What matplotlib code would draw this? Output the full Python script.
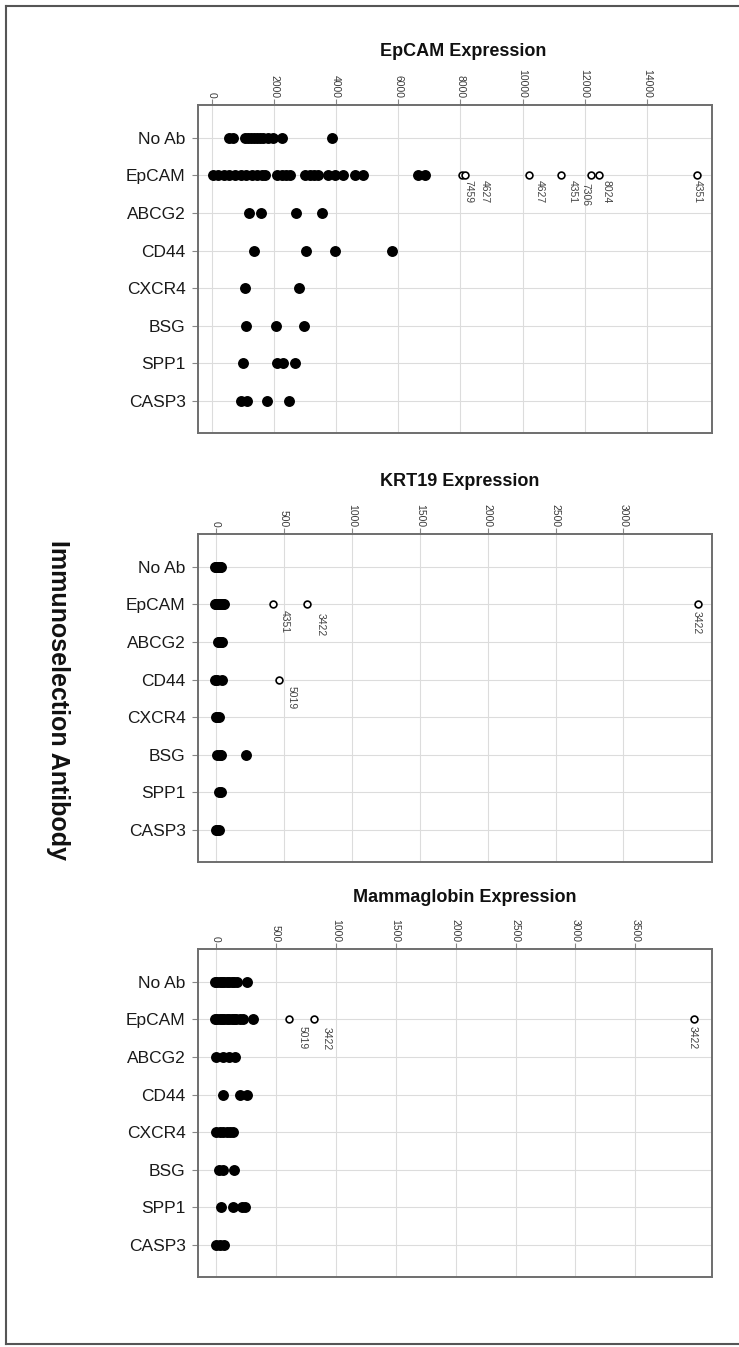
import matplotlib
matplotlib.use("Agg")
import matplotlib.pyplot as plt
from matplotlib.lines import Line2D

plt.rcParams['font.family'] = ['Liberation Sans', 'DejaVu Sans']

# ---------------- data ----------------
rows = ["No Ab", "EpCAM", "ABCG2", "CD44", "CXCR4", "BSG", "SPP1", "CASP3"]

epcam_title = "EpCAM Expression"
epcam_ticks = [0, 2000, 4000, 6000, 8000, 10000, 12000, 14000]
epcam_values = [
    [550, 680, 1050, 1150, 1250, 1350, 1450, 1550, 1650, 1800, 1950, 2250, 3860],
    [40, 200, 380, 560, 740, 920, 1100, 1280, 1460, 1600, 1710, 2080, 2250, 2380, 2510,
     2990, 3150, 3300, 3420, 3750, 3950, 4230, 4600, 4870, 6640, 6860],
    [1190, 1580, 2700, 3540],
    [1350, 3030, 3950, 5790],
    [1060, 2800],
    [1090, 2060, 2960],
    [1000, 2090, 2290, 2670],
    [930, 1130, 1770, 2480],
]
epcam_out_rows = ["EpCAM"] * 7
epcam_out_values = [8060, 8160, 10200, 11230, 12220, 12460, 15610]
epcam_out_labels = ["7459", "4627", "4627", "4351", "7306", "8024", "4351"]

krt19_title = "KRT19 Expression"
krt19_ticks = [0, 500, 1000, 1500, 2000, 2500, 3000]
krt19_values = [
    [-10, 0, 10, 20, 30, 40],
    [-10, 0, 10, 20, 30, 40, 50, 60],
    [15, 25, 35, 45],
    [-10, 10, 45],
    [0, 10, 25],
    [10, 30, 40, 220],
    [25, 35],
    [0, 10, 20],
]
krt19_out_rows = ["EpCAM", "EpCAM", "EpCAM", "CD44"]
krt19_out_values = [420, 670, 3550, 465]
krt19_out_labels = ["4351", "3422", "3422", "5019"]

mam_title = "Mammaglobin Expression"
mam_ticks = [0, 500, 1000, 1500, 2000, 2500, 3000, 3500]
mam_values = [
    [-10, 10, 30, 50, 70, 90, 110, 130, 150, 175, 255],
    [-10, 10, 30, 50, 70, 90, 110, 130, 150, 170, 200, 225, 305],
    [0, 60, 110, 155],
    [60, 200, 260],
    [0, 30, 60, 90, 120, 140],
    [25, 60, 150],
    [40, 140, 215, 240],
    [0, 30, 70],
]
mam_out_rows = ["EpCAM", "EpCAM", "EpCAM"]
mam_out_values = [610, 815, 3990]
mam_out_labels = ["5019", "3422", "3422"]

y_label = "Immunoselection Antibody"

# ---------------- styling / layout ----------------
W, H = 739, 1347
fig = plt.figure(figsize=(W / 100, H / 100), dpi=100)

# label offsets (pixels right, pixels down) for the outlier annotations
epcam_lab_off = [(6, 5), (19, 5), (11, 5), (12, 5), (-6, 8), (8, 5), (1, 5)]
krt19_lab_off = [(12, 6), (14, 9), (-1, 7), (12, 6)]
mam_lab_off = [(14, 7), (13, 8), (-1, 7)]

panels = [
    dict(title=epcam_title, ticks=epcam_ticks, values=epcam_values,
         orows=epcam_out_rows, ovals=epcam_out_values, olabs=epcam_out_labels,
         off=epcam_lab_off, xlim=(-450, 16100), top=105, bottom=433, ty=52, tx=463),
    dict(title=krt19_title, ticks=krt19_ticks, values=krt19_values,
         orows=krt19_out_rows, ovals=krt19_out_values, olabs=krt19_out_labels,
         off=krt19_lab_off, xlim=(-133, 3652), top=534, bottom=862, ty=481, tx=460),
    dict(title=mam_title, ticks=mam_ticks, values=mam_values,
         orows=mam_out_rows, ovals=mam_out_values, olabs=mam_out_labels,
         off=mam_lab_off, xlim=(-150, 4140), top=949, bottom=1277, ty=897, tx=465),
]

left_px, right_px = 198, 712
spine_col = "#6e6e6e"
grid_col = "#dcdcdc"

for p in panels:
    ax = fig.add_axes([left_px / W, 1 - p['bottom'] / H,
                       (right_px - left_px) / W, (p['bottom'] - p['top']) / H])
    ax.set_xlim(*p['xlim'])
    ax.set_ylim(7.85, -0.87)
    ax.set_xticks(p['ticks'])
    ax.set_xticklabels([str(t) for t in p['ticks']])
    ax.set_yticks(range(len(rows)))
    ax.set_yticklabels(rows)
    ax.xaxis.tick_top()
    ax.tick_params(axis='x', labelrotation=270, labelsize=7.5, labelcolor='#3a3a3a',
                   length=4, width=0.8, color='#888888', pad=1)
    ax.tick_params(axis='y', labelsize=12.5, labelcolor='#1a1a1a', length=4,
                   width=0.8, color='#888888', pad=5)
    ax.grid(True, color=grid_col, linewidth=0.8)
    ax.set_axisbelow(True)
    for s in ax.spines.values():
        s.set_color(spine_col)
        s.set_linewidth(1.4)

    for i, vals in enumerate(p['values']):
        ax.scatter(vals, [i] * len(vals), s=62, color='black', zorder=3, linewidths=0)

    oy = [rows.index(r) for r in p['orows']]
    ax.scatter(p['ovals'], oy, s=24, facecolor='white', edgecolor='black',
               linewidths=1.2, zorder=4)
    for v, yy, lab, (dx, dy) in zip(p['ovals'], oy, p['olabs'], p['off']):
        ax.annotate(lab, xy=(v, yy), xytext=(dx * 0.72, -dy * 0.72),
                    textcoords='offset points', rotation=270, ha='center', va='top',
                    fontsize=7.5, color='#444444', zorder=5)

    fig.text(p['tx'] / W, 1 - p['ty'] / H, p['title'], ha='center', va='center',
             fontsize=13, fontweight='bold', color='#111111')

fig.text(58 / W, 1 - 700 / H, y_label, rotation=270, ha='center', va='center',
         fontsize=18, fontweight='bold', color='#111111')

# outer frame (left, top, bottom)
fx0, fy0, fy1 = 5.5 / W, 1 - 6 / H, 1 - 1344 / H
fig.add_artist(Line2D([fx0, fx0], [fy1, fy0], color='#555555', linewidth=1.5))
fig.add_artist(Line2D([fx0, 1], [fy0, fy0], color='#555555', linewidth=1.5))
fig.add_artist(Line2D([fx0, 1], [fy1, fy1], color='#555555', linewidth=1.5))

fig.savefig("out.png", dpi=100)
